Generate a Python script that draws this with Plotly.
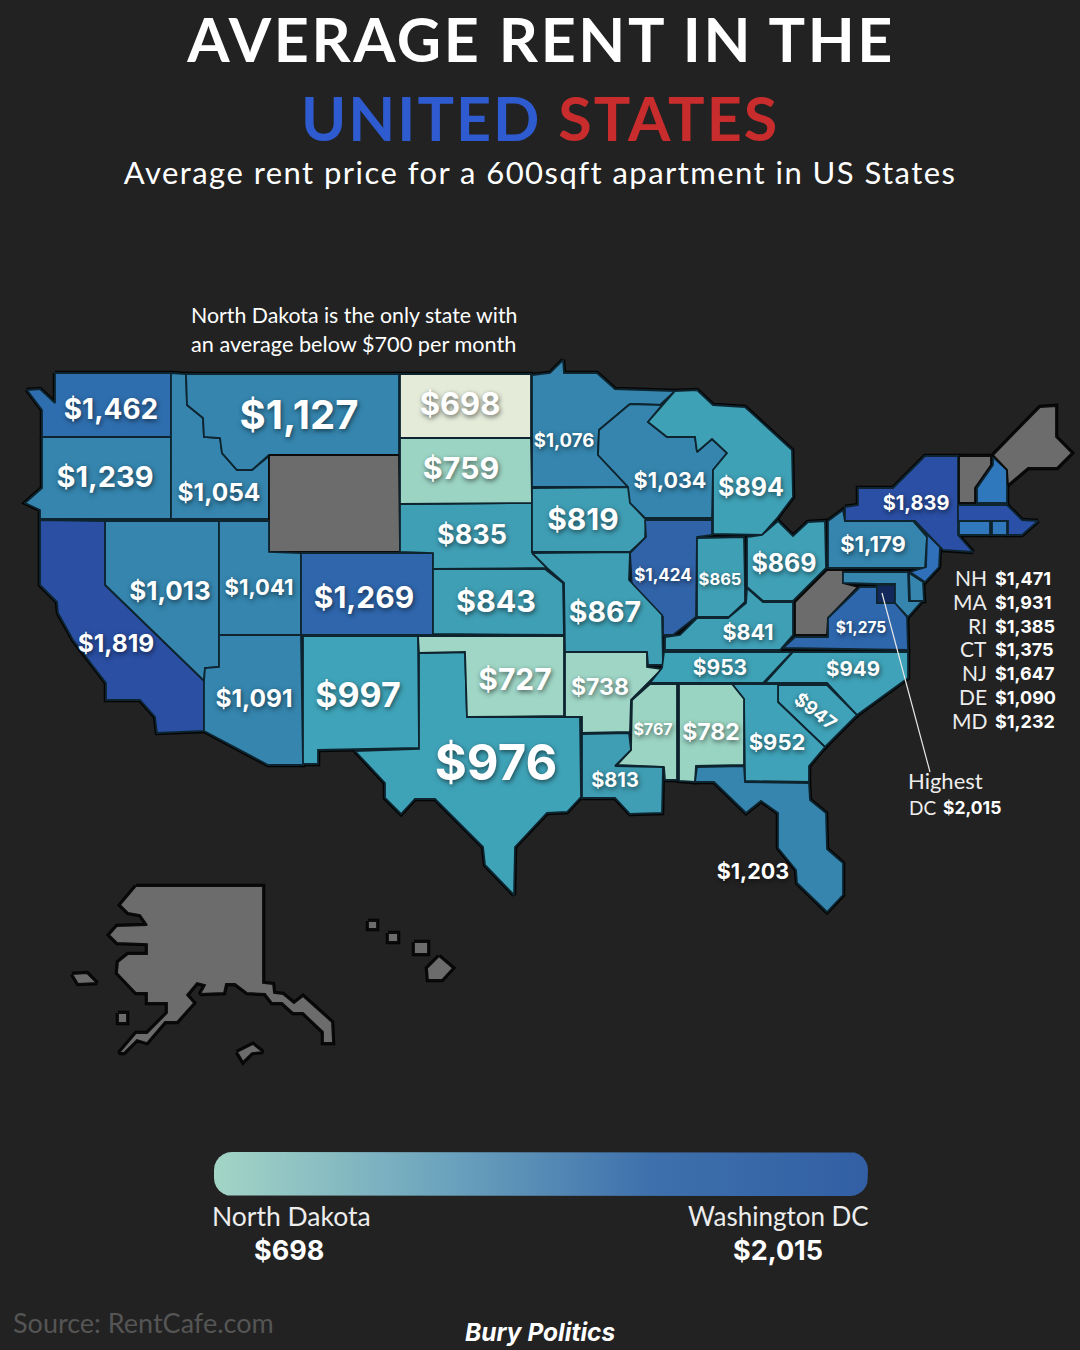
import numpy as np
import plotly.graph_objects as go
from plotly.colors import sample_colorscale

# ---- data -----------------------------------------------------------------
state_codes = ["WA","OR","ID","MT","ND","SD","NE","MN","IA","WI","MI","NY","PA","OH","IL","IN",
               "NV","UT","CO","KS","MO","KY","VA","CA","TN","NC","AZ","NM","OK","AR","MS","AL",
               "GA","TX","LA","FL","SC","NH","MA","RI","CT","NJ","DE","MD","DC"]
state_values = [1462,1239,1054,1127,698,759,835,1076,819,1034,894,1839,1179,869,1424,865,
                1013,1041,1269,843,867,841,1275,1819,953,949,1091,997,727,738,767,782,
                952,976,813,1203,947,1471,1931,1385,1375,1647,1090,1232,2015]
no_data_codes = ["WY","WV","VT","ME","AK","HI"]

# labelled directly on the map
map_label_codes = ["WA","OR","ID","MT","ND","SD","NE","MN","IA","WI","MI","NY","PA","OH","IL","IN",
                   "NV","UT","CO","KS","MO","KY","VA","CA","TN","NC","AZ","NM","OK","AR","MS","AL",
                   "GA","TX","LA","FL"]
map_label_x = [111,105,219,299,460,461,472,564,583,670,751,916,873,784,663,720,
               170,259,364,496,605,748,861,116,720,853,254,358,515,600,653,711,
               777,496,615,753]
map_label_y = [409,477,492,415,404,468,535,441,519,480,487,503,544,563,575,579,
               591,587,597,601,612,632,628,643,668,669,698,695,679,687,729,732,
               742,763,780,871]
map_label_size = [28,29,24.5,40,31,30.5,27,18.5,30,21.5,25,20,22,25,17,16.5,
                  26,22,30,30.5,28.5,21.5,15.5,24.5,21,20.5,24.5,34,30,23,16,23,
                  22,49,20,21.5]

side_codes = ["NH","MA","RI","CT","NJ","DE","MD"]
side_y = [578,602,626,649,673,697,721]

scale_min, scale_max = 698, 2015
colour_stops = [(698,"#E4EBD9"),(722,"#A0D6C6"),(790,"#98D3C0"),(812,"#3F9EB4"),(1000,"#3FA4B9"),
                (1010,"#3585AE"),(1240,"#3585AE"),(1265,"#2F65AB"),(1370,"#3077BC"),(1390,"#3077BC"),
                (1415,"#3163A8"),(1430,"#3163A8"),(1462,"#2F6EAE"),(1471,"#2F78BC"),(1647,"#3070BA"),
                (1820,"#2A4FA3"),(1931,"#2A50A8"),(2015,"#13285A")]
bar_colours = ["#A3D5C6","#6FA6BE","#3E70AC","#325FA4"]

# ---- traced state outlines (geometry of the stylised base map) -------------
shapes = {
"WA":[(55,373),(171,373),(171,437),(42,437),(42,410),(27,390),(40,389),(55,403)],
"OR":[(42,437),(171,437),(171,519),(40,519),(40,510),(25,503),(42,488)],
"ID":[(171,373),(186,374),(187,405),(203,418),(204,437),(220,438),(222,453),(237,470),(252,470),(269,456),(269,519),(171,519)],
"MT":[(186,374),(399,374),(399,455),(269,455),(252,470),(237,470),(222,453),(220,438),(204,437),(203,418),(187,405)],
"WY":[(269,455),(399,455),(400,552),(269,552)],
"NV":[(105,521),(219,521),(219,667),(205,668),(204,681),(105,585)],
"CA":[(40,520),(105,521),(105,585),(204,681),(204,731),(157,733),(155,717),(140,700),(106,700),(106,683),(73,640),(58,613),(57,602),(40,585)],
"UT":[(219,521),(269,521),(269,552),(301,553),(301,635),(219,635)],
"CO":[(301,553),(433,553),(433,635),(301,635)],
"AZ":[(219,635),(301,635),(303,765),(268,765),(204,731),(204,681),(205,668),(219,667)],
"NM":[(303,636),(418,636),(419,748),(318,750),(318,764),(303,764)],
"TX":[(419,653),(465,652),(467,717),(580,717),(581,797),(567,812),(547,813),(515,847),(514,895),(485,865),(483,847),(435,799),(415,799),(401,814),(385,798),(385,783),(355,751),(419,749)],
"OK":[(418,636),(564,636),(564,716),(467,717),(465,652),(419,653)],
"KS":[(433,569),(545,569),(563,583),(564,635),(433,634)],
"NE":[(400,504),(532,503),(532,552),(547,568),(433,569),(433,553),(400,552)],
"SD":[(400,438),(531,438),(532,503),(400,504)],
"ND":[(400,374),(531,374),(531,438),(400,438)],
"MN":[(532,375),(550,373),(563,360),(564,373),(597,373),(615,389),(675,391),(660,405),(630,404),(599,430),(598,455),(628,487),(532,487)],
"IA":[(532,488),(630,487),(631,503),(646,520),(645,538),(630,552),(532,552)],
"WI":[(630,404),(662,405),(648,422),(667,437),(695,437),(697,452),(712,439),(727,453),(713,470),(712,518),(645,518),(630,503),(628,487),(598,455),(599,430)],
"MI":[(675,391),(697,390),(713,405),(745,407),(792,450),(793,497),(778,517),(762,535),(713,534),(713,470),(727,453),(712,439),(697,452),(695,437),(667,437),(648,422)],
"IL":[(645,520),(712,520),(712,535),(697,537),(696,617),(673,635),(663,635),(663,617),(632,587),(630,553),(646,537)],
"IN":[(697,538),(744,537),(745,588),(745,602),(729,617),(697,617)],
"OH":[(747,537),(762,535),(778,521),(793,536),(808,522),(825,521),(826,568),(793,601),(763,601),(747,587)],
"KY":[(747,588),(763,602),(793,602),(793,635),(780,650),(665,650),(665,637),(680,635),(697,618),(728,618),(746,603)],
"WV":[(795,602),(827,570),(843,570),(843,583),(858,587),(828,618),(827,635),(795,635)],
"VA":[(783,648),(795,637),(828,637),(828,618),(860,587),(877,587),(877,603),(895,603),(907,617),(908,650)],
"DC":[(877,585),(895,585),(895,603),(877,603)],
"MD":[(843,572),(908,572),(909,601),(923,600),(908,617),(895,603),(895,584),(877,584),(843,583)],
"DE":[(909,573),(923,582),(924,601),(910,601)],
"PA":[(828,521),(843,510),(845,521),(913,521),(927,537),(925,568),(828,568)],
"NJ":[(915,522),(940,547),(939,567),(925,582),(910,572),(926,567),(927,537)],
"NY":[(845,507),(858,505),(858,488),(893,488),(925,456),(958,456),(958,535),(973,552),(943,550),(915,521),(845,521)],
"MA":[(958,505),(1007,505),(1022,520),(1038,521),(1022,535),(1008,535),(1008,521),(958,521)],
"CT":[(959,521),(990,521),(990,535),(959,535)],
"RI":[(992,521),(1007,521),(1007,535),(992,535)],
"VT":[(959,456),(991,456),(991,465),(975,488),(975,503),(959,503)],
"NH":[(993,457),(1007,470),(1007,503),(977,503),(977,488),(993,465)],
"ME":[(993,455),(1040,407),(1056,406),(1056,437),(1072,453),(1057,468),(1028,468),(1008,485),(1007,470)],
"AR":[(565,652),(647,652),(647,667),(662,669),(631,700),(630,732),(582,733),(582,717),(565,717)],
"MO":[(532,553),(630,552),(629,580),(662,615),(663,665),(648,665),(647,652),(565,652),(564,583),(547,568)],
"TN":[(664,652),(792,652),(763,683),(650,683),(662,668)],
"NC":[(793,652),(908,652),(908,678),(857,715),(827,683),(765,683)],
"SC":[(778,685),(827,685),(857,715),(825,747),(778,702)],
"GA":[(732,684),(778,684),(778,702),(825,747),(809,766),(809,782),(745,781),(744,699)],
"AL":[(679,684),(732,684),(744,699),(744,765),(696,766),(695,782),(679,781)],
"MS":[(632,700),(650,684),(677,684),(677,780),(665,780),(664,767),(617,765),(631,750)],
"LA":[(582,734),(629,733),(631,750),(615,766),(663,767),(662,813),(630,814),(615,798),(582,798)],
"FL":[(697,767),(744,766),(745,782),(809,783),(810,800),(826,813),(827,849),(843,863),(843,895),(827,912),(797,883),(796,870),(778,848),(778,813),(761,801),(746,813),(714,782),(695,782)],
}
multi_shapes = {
"AK":[[(136,886),(263,886),(263,983),(273,984),(274,993),(283,994),(294,1003),(303,996),(332,1022),(333,1043),(323,1043),(323,1032),(303,1013),(293,1013),(282,1003),(272,1003),(265,994),(247,993),(235,984),(226,984),(224,993),(200,994),(205,985),(197,983),(187,995),(194,1003),(177,1022),(165,1022),(147,1043),(137,1040),(124,1053),(119,1053),(136,1033),(147,1033),(167,1013),(167,1003),(147,1003),(147,993),(136,993),(117,973),(118,962),(128,954),(147,954),(147,944),(117,943),(109,935),(117,926),(147,925),(140,915),(128,913),(120,905)],
      [(72,974),(87,973),(97,983),(78,984)],
      [(118,1013),(127,1013),(127,1023),(118,1023)],
      [(237,1052),(253,1044),(263,1052),(252,1053),(243,1062)]],
"HI":[[(368,921),(377,921),(377,929),(368,929)],
      [(388,933),(398,933),(398,942),(388,942)],
      [(414,942),(428,942),(428,954),(414,954)],
      [(439,956),(453,968),(442,980),(428,980),(427,968)]],
}

# ---- helpers --------------------------------------------------------------
cs = [[(v - scale_min) / (scale_max - scale_min), c] for v, c in colour_stops]
def colour_of(v):
    return sample_colorscale(cs, [(v - scale_min) / (scale_max - scale_min)])[0]
def money(v):
    return f"${v:,}"
def xy(polys):
    xs, ys = [], []
    for p in polys:
        xs += [q[0] for q in p] + [p[0][0], None]
        ys += [q[1] for q in p] + [p[0][1], None]
    return xs, ys

BG = "#222222"
fig = go.Figure()

# black outer halo behind all states
all_polys = list(shapes.values()) + [p for v in multi_shapes.values() for p in v]
hx, hy = xy(all_polys)
fig.add_trace(go.Scatter(x=hx, y=hy, mode="lines", line=dict(color="#050505", width=4.5),
                         hoverinfo="skip", showlegend=False))

value_of = dict(zip(state_codes, state_values))
for code in list(shapes) + list(multi_shapes):
    polys = multi_shapes.get(code, [shapes.get(code)])
    px, py = xy(polys)
    val = value_of.get(code)
    fill = colour_of(val) if val is not None else "#6C6C6C"
    edge = "#0E2530" if val is not None else "#0b0b0b"
    fig.add_trace(go.Scatter(x=px, y=py, mode="lines", fill="toself", fillcolor=fill,
                             line=dict(color=edge, width=1.8), name=code,
                             hoverinfo="name", showlegend=False))

# DC call-out leader
fig.add_trace(go.Scatter(x=[882, 930], y=[593, 772], mode="lines",
                         line=dict(color="#E8E8E8", width=1.2), hoverinfo="skip", showlegend=False))

# value labels on the map (baseline correction grows with font size)
SHADOW = "1px 2px 5px rgba(0,0,0,0.55)"
fig.add_trace(go.Scatter(
    x=map_label_x, y=[y + 0.1 * s for y, s in zip(map_label_y, map_label_size)], mode="text",
    text=[money(value_of[c]) for c in map_label_codes],
    textposition="middle center",
    textfont=dict(family="Inter", size=map_label_size, color="white", weight=700, shadow=SHADOW),
    hoverinfo="skip", showlegend=False))

# gradient legend bar (rounded ends)
L, R, T, B, r = 214, 868, 1152, 1196, 18
ang = np.linspace(0, np.pi / 2, 7)
bx = np.r_[L + r - r*np.cos(ang), R - r + r*np.sin(ang), R - r + r*np.cos(ang), L + r - r*np.sin(ang)]
by = np.r_[T + r - r*np.sin(ang), T + r - r*np.cos(ang), B - r + r*np.sin(ang), B - r + r*np.cos(ang)]
fig.add_trace(go.Scatter(
    x=bx, y=by, mode="lines", fill="toself", line=dict(width=0, color="rgba(0,0,0,0)"),
    fillgradient=dict(type="horizontal",
                      colorscale=[[i / (len(bar_colours) - 1), c] for i, c in enumerate(bar_colours)]),
    hoverinfo="skip", showlegend=False))

def note(x, y, text, size, color="white", family="Lato", weight=400, anchor="center", **kw):
    fig.add_annotation(x=x, y=y, text=text, showarrow=False, xanchor=anchor, yanchor="middle",
                       font=dict(family=family, size=size, color=color, weight=weight, **kw))

# SC label is the only rotated one
fig.add_annotation(x=816, y=711, text=money(value_of["SC"]), showarrow=False, textangle=38,
                   font=dict(family="Inter", size=18.5, color="white", weight=700, shadow=SHADOW))

# headings
note(540, 38, "AVERAGE RENT IN THE", 61, weight=700)
note(540, 117, '<span style="color:#2E5BCF">UNITED</span> <span style="color:#C92C2C">STATES</span>', 61, weight=700)
note(540, 172, "Average rent price for a 600sqft apartment in US States", 31)
note(189, 315, "North Dakota is the only state with", 21.3, anchor="left")
note(189, 344, "an average below $700 per month", 21.7, anchor="left")

# small-state side list
for c, y in zip(side_codes, side_y):
    note(989, y - 1, c, 21, anchor="right", color="#EDEDED")
    note(993, y, money(value_of[c]), 18, family="Inter", weight=700, anchor="left")
note(945, 780, "Highest", 22, color="#EDEDED")
note(907, 807, "DC", 19, color="#EDEDED", anchor="left")
note(941, 807, money(value_of["DC"]), 17.5, family="Inter", weight=700, anchor="left")

# legend texts
note(291, 1216, "North Dakota", 26.5, color="#EDEDED")
note(289, 1250, money(scale_min), 27, family="Inter", weight=700)
note(778, 1216, "Washington DC", 26, color="#EDEDED")
note(778, 1250, money(scale_max), 27, family="Inter", weight=700)
note(11, 1322, "Source: RentCafe.com", 27, color="#555555", anchor="left")
note(540, 1332, "<b><i>Bury Politics</i></b>", 24.5, family="Inter")

fig.update_layout(
    width=1080, height=1350, margin=dict(l=0, r=0, t=0, b=0),
    paper_bgcolor=BG, plot_bgcolor=BG,
    xaxis=dict(range=[0, 1080], visible=False, fixedrange=True),
    yaxis=dict(range=[1350, 0], visible=False, fixedrange=True),
    showlegend=False,
)

# page chrome: no body margin; tracked-out heading lines
page_js = """
document.body.style.margin='0';
document.body.style.background='#222222';
function track(){
  document.querySelectorAll('.annotation-text').forEach(function(t){
    var s=t.textContent;
    if(s.indexOf('AVERAGE RENT')===0) t.style.letterSpacing='2.6px';
    else if(s.indexOf('UNITED')===0) t.style.letterSpacing='2px';
    else if(s.indexOf('Average rent')===0) t.style.letterSpacing='1.45px';
  });
}
track(); setTimeout(track,50); setTimeout(track,300);
"""
fig.write_html("out.html", config=dict(displayModeBar=False), post_script=page_js)
